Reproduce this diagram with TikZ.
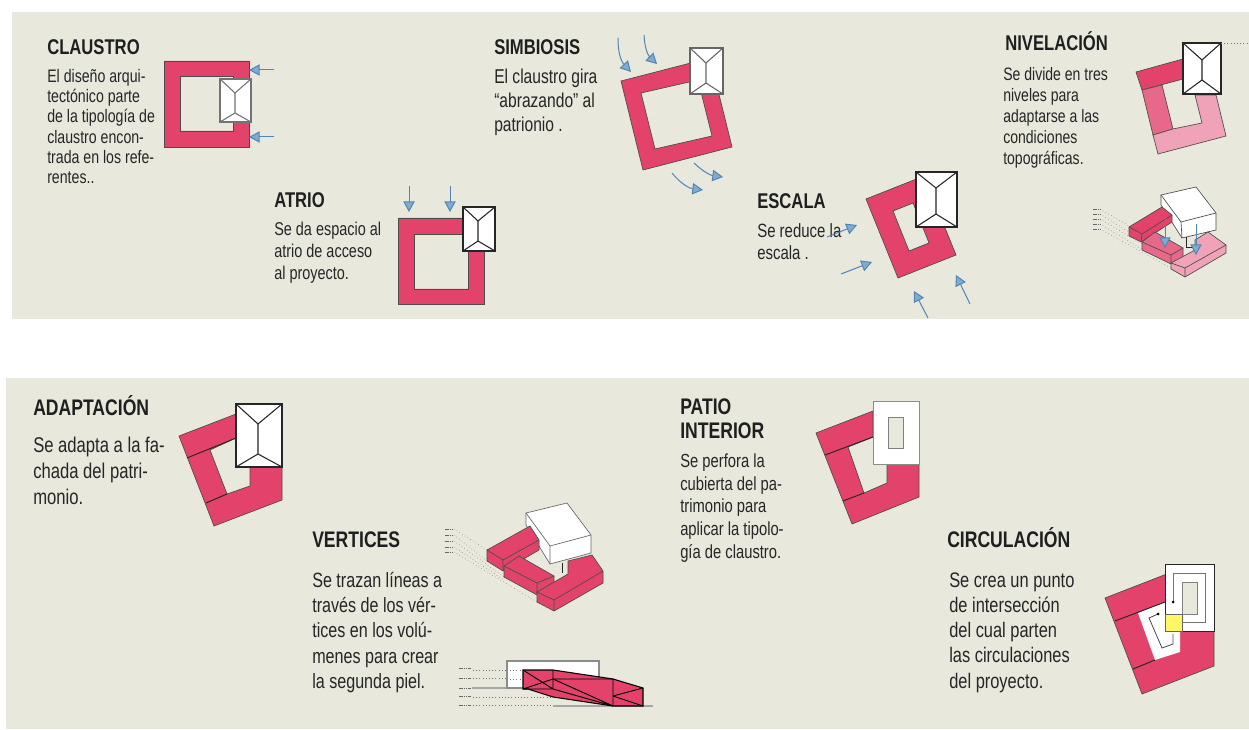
\documentclass[tikz,border=0pt]{standalone}
\usepackage{fontspec}
\setmainfont{Liberation Sans}[FakeStretch=0.78]
\usetikzlibrary{positioning, arrows.meta}
\definecolor{panelbg}{RGB}{232,232,220}
\definecolor{claustrored}{RGB}{227,67,106}
\definecolor{midpink}{RGB}{232,104,138}
\definecolor{lightpink}{RGB}{240,162,184}
\definecolor{flowblue}{RGB}{79,134,184}
\definecolor{flowfill}{RGB}{130,170,205}
\tikzset{
    x=0.75pt, y=-0.75pt,                        % one unit is one pixel of the sheet
    flow/.style={flowblue, line width=0.75pt, -{Triangle[length=8pt, width=8.5pt, fill=flowfill]}},
    mass/.style={fill=claustrored, draw=black!70, line width=0.5pt},
    seam/.style={black!85, line width=0.7pt},
    guide/.style={black!55, line width=0.4pt, dotted},
    tick/.style={black!60, line width=0.7pt, dash pattern=on 1.2pt off 0.5pt},
    titletext/.style={font=\bfseries\fontsize{16}{17}\selectfont, inner sep=0pt, anchor=base west, text=black!88},
    bigtitle/.style={titletext, font=\bfseries\fontsize{16.9}{18}\selectfont},
    bodytext/.style 2 args={font=\fontsize{#1}{#2}\selectfont, inner sep=0pt, align=left, text=black!85},
}
% roof seen from above: line colour, corners, ridge x, ridge ends
\newcommand{\roofplan}[8]{
    \draw[fill=white, draw=#1, line width=0.9pt] (#2,#3) rectangle (#4,#5);
    \draw[#1, line width=0.8pt] (#2,#3) -- (#6,#7) -- (#4,#3) (#6,#7) -- (#6,#8) (#2,#5) -- (#6,#8) -- (#4,#5);
}
\begin{document}
\begin{tikzpicture}
\useasboundingbox (0,0) rectangle (1249,730);
\fill[white] (0,0) rectangle (1249,730);
\fill[panelbg] (12,12) rectangle (1249,319);
\fill[panelbg] (6,378) rectangle (1249,729);

% CLAUSTRO
\draw[mass, even odd rule] (164,61) rectangle (249,147) (180,76) rectangle (233,131);
\roofplan{black!55}{220}{79}{251}{122}{235}{93}{113}
\draw[flow] (274,70) -- (249,70);
\draw[flow] (274,137) -- (249,137);
\node[titletext] (claustro) at (47,55) {CLAUSTRO};
\node[bodytext={13.6}{15.2}, below right=10.5pt and 0pt of claustro.base west] (claustrotext) {El diseño  arqui-\\tectónico parte\\de la tipología de\\claustro encon-\\trada en los refe-\\rentes..};

% ATRIO
\draw[mass, even odd rule] (398,218) rectangle (484,304) (414,234) rectangle (468,289);
\roofplan{black!85}{463}{207}{495}{251}{478}{221}{241}
\draw[flow] (409,186) -- (409,212);
\draw[flow] (450,186) -- (450,212);
\node[titletext] (atrio) at (274,208) {ATRIO};
\node[bodytext={13.9}{16.5}, below right=10.5pt and 0pt of atrio.base west] (atriotext) {Se da espacio al\\atrio de acceso\\al proyecto.};

% SIMBIOSIS
\draw[mass, even odd rule] (621,81) -- (710,58) -- (732,147) -- (643,170) -- cycle (641,93) -- (698,80) -- (712,136) -- (655,149) -- cycle;
\roofplan{black!60}{690}{48}{723}{94}{706}{63}{83}
\draw[flow] (618,38) to[bend right=22] (631,72);
\draw[flow] (644,35) to[bend right=22] (657,64);
\draw[flow] (672,173) to[bend right=22] (703,190);
\draw[flow] (694,163) to[bend right=18] (723,177);
\node[titletext] (simbiosis) at (494,55) {SIMBIOSIS};
\node[bodytext={15}{18}, below right=10.5pt and 0pt of simbiosis.base west] (simbiosistext) {El claustro gira\\“abrazando” al\\patrionio .};

% ESCALA
\draw[mass, even odd rule] (866,199) -- (924,176) -- (956,255) -- (898,278) -- cycle (893,211) -- (913,203) -- (929,243) -- (909,251) -- cycle;
\roofplan{black!85}{916}{172}{957}{227}{936}{188}{214}
\node[titletext] (escala) at (757,209) {ESCALA};
\node[bodytext={14.4}{17}, below right=10.5pt and 0pt of escala.base west] (escalatext) {Se reduce la\\escala .};
\draw[flow] (827,237) -- (857,225);
\draw[flow] (841,274) -- (872,262);
\draw[flow] (928,318) -- (914,291);
\draw[flow] (970,304) -- (956,275);

% NIVELACION
\draw[fill=claustrored, draw=black!70, line width=0.5pt] (1136,72) -- (1183,59) -- (1183,79) -- (1142,90) -- cycle;
\draw[fill=midpink, draw=black!70, line width=0.5pt] (1142,90) -- (1162,85) -- (1173,129) -- (1153,135) -- cycle;
\draw[fill=lightpink, draw=black!70, line width=0.5pt] (1153,135) -- (1173,129) -- (1202,123) -- (1195,95) -- (1216,95) -- (1226,136) -- (1158,154) -- cycle;
\roofplan{black!85}{1183}{43}{1221}{94}{1202}{60}{80}
\draw[guide] (1221,43) -- (1249,43);
\node[titletext] (nivelacion) at (1005,51) {NIVELACIÓN};
\node[bodytext={13.5}{15.8}, below right=12pt and -1.5pt of nivelacion.base west] (nivelaciontext) {Se divide en tres\\niveles para\\adaptarse  a las\\condiciones\\topográficas.};
% niveles, volumes
\foreach \y/\endx/\endy in {209/1129/226, 214/1132/234, 219/1142/244, 224/1150/254, 229/1171/268}
    \draw[guide] (1100,\y) -- (\endx,\endy);
\foreach \y in {209,214,219,224,229}
    \draw[tick] (1093,\y) -- (1100,\y);
\draw[fill=white, draw=black!70, line width=0.5pt] (1161,195) -- (1196,187) -- (1216,213) -- (1216,230) -- (1182,238) -- (1161,205) -- cycle;
\draw[black!70, line width=0.5pt] (1161,195) -- (1181,222) -- (1216,213) (1181,222) -- (1182,238);
\draw[fill=claustrored, draw=black!70, line width=0.5pt] (1129,227) -- (1162,207) -- (1172,215) -- (1172,222) -- (1141,242) -- (1129,236) -- cycle;
\draw[black!70, line width=0.5pt] (1129,227) -- (1142,234) -- (1172,215) (1142,234) -- (1141,242);
\draw[fill=midpink, draw=black!70, line width=0.5pt] (1142,242) -- (1155,232) -- (1183,248) -- (1183,258) -- (1171,264) -- (1142,250) -- cycle;
\draw[black!70, line width=0.5pt] (1142,242) -- (1171,255) -- (1183,248) (1171,255) -- (1171,264);
\draw[black!85, line width=0.5pt] (1186,237) -- (1186,247) -- (1198,247);
\draw[fill=lightpink, draw=black!70, line width=0.5pt] (1171,263) -- (1195,250) -- (1195,240) -- (1208,232) -- (1226,245) -- (1226,253) -- (1185,277) -- (1171,269) -- cycle;
\draw[black!70, line width=0.5pt] (1171,263) -- (1185,268) -- (1226,245) (1185,268) -- (1185,277);
\draw[flow] (1165,217) -- (1165,248);
\draw[flow] (1196,224) -- (1196,255);

% ADAPTACION
\draw[mass] (179,436) -- (236,414) -- (236,438) -- (210,450) -- (227,494) -- (250,486) -- (250,467) -- (282,467) -- (282,500) -- (214,526) -- cycle;
\draw[seam] (187,458) -- (236,438) (206,503) -- (227,494);
\roofplan{black!85}{236}{404}{282}{467}{258}{424}{454}
\node[bigtitle] (adaptacion) at (33,416) {ADAPTACIÓN};
\node[bodytext={16}{19.5}, below right=15.5pt and 0pt of adaptacion.base west] (adaptaciontext) {Se adapta a la fa-\\chada del patri-\\monio.};

% VERTICES
\foreach \y/\endx/\endy in {529/487/550, 535/487/561, 541/504/577, 547/504/580, 552/537/602}
    \draw[guide] (454,\y) -- (\endx,\endy);
\foreach \y in {529,535,541,547,552}
    \draw[tick] (445,\y) -- (454,\y);
\draw[fill=white, draw=black!60, line width=0.5pt] (526,513) -- (567,503) -- (591,535) -- (591,553) -- (550,564) -- (526,525) -- cycle;
\draw[black!60, line width=0.5pt] (526,513) -- (550,546) -- (591,535) (550,546) -- (550,564);
\draw[mass] (487,550) -- (530,526) -- (539,540) -- (539,550) -- (503,571) -- (487,561) -- cycle;
\draw[black!70, line width=0.5pt] (487,550) -- (503,560) -- (539,540) (503,560) -- (503,571);
\draw[mass] (504,566) -- (519,556) -- (554,576) -- (554,585) -- (537,595) -- (504,577) -- cycle;
\draw[black!70, line width=0.5pt] (504,566) -- (537,583) -- (554,576) (537,583) -- (537,595);
\draw[black!85, line width=0.5pt] (562,563) -- (562,573);
\draw[mass] (537,592) -- (568,574) -- (568,561) -- (592,555) -- (603,571) -- (603,583) -- (554,611) -- (537,602) -- cycle;
\draw[black!70, line width=0.5pt] (537,592) -- (554,600) -- (603,571) (554,600) -- (554,611);
\node[bigtitle] (vertices) at (312,547) {VERTICES};
\node[bodytext={15.5}{18.8}, below right=19pt and 0pt of vertices.base west] (verticestext) {Se trazan líneas a\\través de los vér-\\tices en los volú-\\menes para crear\\la segunda piel.};
% section of the volumes
\foreach \y/\endx in {670/523, 678/523, 697/553, 705/553}
    \draw[guide] (473,\y) -- (\endx,\y);
\foreach \y in {668,678,688,696,705}
    \draw[tick] (459,\y) -- (471,\y);
\draw[black!35, line width=0.8pt] (472,688) -- (507,688) (553,706) -- (653,706);
\draw[fill=white, draw=black!45, line width=0.8pt] (507,661) rectangle (599,688);
\draw[guide] (510,670) -- (520,670) (510,679) -- (520,679);
\draw[fill=claustrored, draw=black, line width=0.8pt] (523,670) -- (553,670) -- (613,679) -- (643,688) -- (643,706) -- (613,706) -- (553,697) -- (528,689) -- (523,689) -- cycle;
\draw[black, line width=0.7pt] (523,689) -- (553,679) -- (613,679) (523,670) -- (553,689) -- (523,689) (553,670) -- (553,689) (553,679) -- (613,706) (553,689) -- (613,706) (613,679) -- (613,706) (613,696) -- (643,688) (613,696) -- (643,706);

% PATIO INTERIOR
\draw[mass] (816,433) -- (873,411) -- (873,437) -- (848,447) -- (864,493) -- (887,483) -- (887,464) -- (919,464) -- (919,497) -- (852,524) -- cycle;
\draw[seam] (825,455) -- (873,437) (843,501) -- (864,493);
\draw[fill=white, draw=black!45, line width=0.5pt] (873,401) rectangle (919,464);
\draw[fill=panelbg, draw=black!50, line width=0.7pt] (888,417) rectangle (903,448);
\node[bigtitle] (patio) at (680,415) {PATIO};
\node[bigtitle, below right=17.3pt and 0pt of patio.base west, anchor=base west] (interior) {INTERIOR};
\node[bodytext={14.2}{17.1}, below right=11.5pt and 0pt of interior.base west] (patiotext) {Se perfora la\\cubierta del pa-\\trimonio para\\aplicar la tipolo-\\gía de claustro.};

% CIRCULACION
\draw[mass] (1105,598) -- (1177,570) -- (1214,570) -- (1214,666) -- (1142,694) -- cycle;
\draw[fill=white, draw=none] (1138,613) -- (1165,602) -- (1165,631) -- (1180,631) -- (1180,652) -- (1155,660) -- cycle;
\draw[seam] (1115,621) -- (1165,602) (1133,669) -- (1155,660);
\draw[fill=white, draw=black!85, line width=0.7pt] (1165,564) rectangle (1214,631);
\draw[fill=panelbg, draw=black!50, line width=0.7pt] (1182,582) rectangle (1197,614);
\draw[fill=yellow!60, draw=black!60, line width=0.5pt] (1165,614) rectangle (1182,631);
\draw[black!55, line width=0.7pt] (1173,602) -- (1173,573) -- (1205,573) -- (1205,622) -- (1182,622);
\fill[black] (1173,602) circle (1.5);
\draw[black!70, line width=0.6pt] (1158,614) -- (1149,618) -- (1162,648) -- (1173,644) -- (1173,634);
\fill[black] (1158,614) circle (1.5);
\node[bigtitle] (circulacion) at (947,547) {CIRCULACIÓN};
\node[bodytext={15.8}{18.9}, below right=19pt and 1.5pt of circulacion.base west] (circulaciontext) {Se crea un punto\\de intersección\\del cual parten\\las circulaciones\\del proyecto.};

\end{tikzpicture}
\end{document}
